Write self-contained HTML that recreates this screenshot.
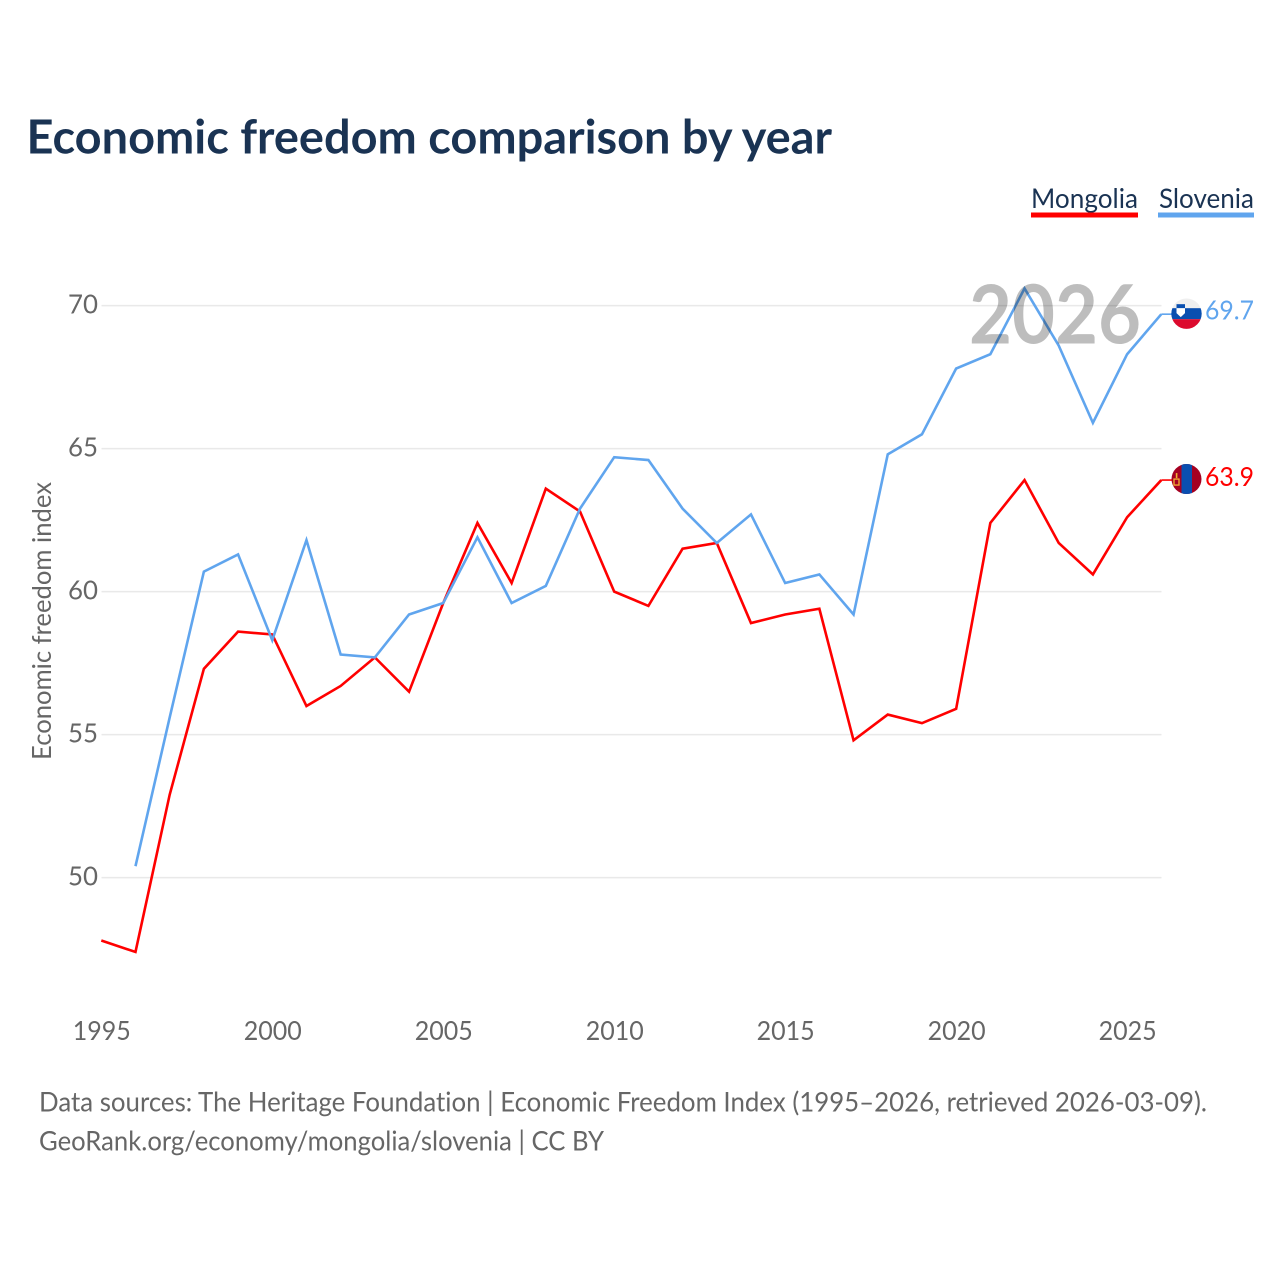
<!DOCTYPE html>
<html lang="en">
<head>
<meta charset="utf-8">
<title>Economic freedom comparison by year</title>
<style>
html,body{margin:0;padding:0;background:#fff;width:1280px;height:1280px;overflow:hidden}
svg{display:block}
text{font-family:"Lato","Carlito","Liberation Sans",sans-serif;font-variant-ligatures:none}
</style>
</head>
<body>
<svg id="chart" xmlns="http://www.w3.org/2000/svg" width="1280" height="1280" viewBox="0 0 1280 1280">
  <defs>
    <clipPath id="clip-si"><circle id="clip-si-c" r="15.2"></circle></clipPath>
    <clipPath id="clip-mn"><circle id="clip-mn-c" r="15"></circle></clipPath>
  </defs>
  <rect width="1280" height="1280" fill="#fff"></rect>
  <text x="26.5" y="153.5" font-size="47" font-weight="700" fill="#1a3353" textLength="805.5" lengthAdjust="spacingAndGlyphs">Economic freedom comparison by year</text>

  <g>
    <g>
      <text x="1031" y="208" font-size="27.5" fill="#1a3353" textLength="107" lengthAdjust="spacingAndGlyphs">Mongolia</text>
      <rect x="1031" y="212.5" width="107" height="5" fill="#ff0000"></rect>
    </g>
    <g>
      <text x="1159" y="208" font-size="27.5" fill="#1a3353" textLength="95" lengthAdjust="spacingAndGlyphs">Slovenia</text>
      <rect x="1158" y="212.5" width="96" height="5" fill="#60a5ee"></rect>
    </g>
  </g>

  <text transform="translate(51,621) rotate(-90)" text-anchor="middle" font-size="26" fill="#666" textLength="278" lengthAdjust="spacingAndGlyphs">Economic freedom index</text>

  <g id="grid"></g>
  <g id="y-ticks"></g>
  <g id="x-ticks"></g>
  <g id="series"></g>

  <text id="year-label" x="1141" y="343.5" text-anchor="end" font-size="81" font-weight="700" fill="#000" fill-opacity="0.26" textLength="172" lengthAdjust="spacingAndGlyphs">2026</text>

  <g id="flag-si" clip-path="url(#clip-si)">
    <rect id="si-w" x="1170" width="32" height="11" fill="#efefef"></rect>
    <rect id="si-b" x="1170" width="32" height="11" fill="#0a4fb0"></rect>
    <rect id="si-r" x="1170" width="32" height="11" fill="#dc0a2d"></rect>
    <rect id="si-s" x="1176.5" width="8.5" height="5" fill="#0a4fb0"></rect>
    <path id="si-s2" d="M1176.5 0h8.5v5l-4.25 4l-4.25 -4z" fill="#fff"></path>
  </g>
  <g id="flag-mn" clip-path="url(#clip-mn)">
    <rect id="mn-l" x="1171" width="31" height="31" fill="#a50021"></rect>
    <rect id="mn-c" x="1181.5" width="10.5" height="31" fill="#0a4fb0"></rect>
    <rect id="mn-s1" x="1174" width="5" height="6" fill="none" stroke="#f2b033" stroke-width="1.3"></rect>
    <rect id="mn-s2" x="1175.8" width="1.6" height="5" fill="#f2b033"></rect>
  </g>
  <text id="val-si" x="1205" font-size="26.5" fill="#60a5ee" textLength="49" lengthAdjust="spacingAndGlyphs"></text>
  <text id="val-mn" x="1205" font-size="26.5" fill="#ff0000" textLength="49" lengthAdjust="spacingAndGlyphs"></text>

  <text x="39" y="1111.7" font-size="27" fill="#666" textLength="1168" lengthAdjust="spacingAndGlyphs">Data sources: The Heritage Foundation | Economic Freedom Index (1995–2026, retrieved 2026-03-09).</text>
  <text x="39" y="1150.7" font-size="27" fill="#666" textLength="565" lengthAdjust="spacingAndGlyphs">GeoRank.org/economy/mongolia/slovenia | CC BY</text>
</svg>
<script>
const years = [1995,1996,1997,1998,1999,2000,2001,2002,2003,2004,2005,2006,2007,2008,2009,2010,2011,2012,2013,2014,2015,2016,2017,2018,2019,2020,2021,2022,2023,2024,2025,2026];
const mongolia = [47.8,47.4,52.9,57.3,58.6,58.5,56.0,56.7,57.7,56.5,59.6,62.4,60.3,63.6,62.8,60.0,59.5,61.5,61.7,58.9,59.2,59.4,54.8,55.7,55.4,55.9,62.4,63.9,61.7,60.6,62.6,63.9];
const slovenia = [null,50.4,55.6,60.7,61.3,58.3,61.8,57.8,57.7,59.2,59.6,61.9,59.6,60.2,62.9,64.7,64.6,62.9,61.7,62.7,60.3,60.6,59.2,64.8,65.5,67.8,68.3,70.6,68.6,65.9,68.3,69.7];
const yTicks = [50,55,60,65,70];
const xTicks = [1995,2000,2005,2010,2015,2020,2025];

const NS = 'http://www.w3.org/2000/svg';
function x(year){ return 101.3 + (year - 1995) * (1060 / 31); }
function y(value){ return 877.6 - (value - 50) * 28.6; }
function make(tag, attrs, parent){
  const el = document.createElementNS(NS, tag);
  for (const k in attrs) el.setAttribute(k, attrs[k]);
  parent.appendChild(el);
  return el;
}
const gridG = document.getElementById('grid');
const yG = document.getElementById('y-ticks');
const xG = document.getElementById('x-ticks');
const seriesG = document.getElementById('series');

yTicks.forEach(function(t){
  const line = make('line', {x1:101.5, x2:1161.5, y1:y(t), y2:y(t), stroke:'#e9e9e9', 'stroke-width':1.5}, gridG);
  
  
  const label = make('text', {x:98, y:y(t)+8, 'text-anchor':'end', 'font-size':26.5, fill:'#666', textLength:30, lengthAdjust:'spacingAndGlyphs'}, yG);
  
  
  label.textContent = t;
});
xTicks.forEach(function(t){
  const label = make('text', {x:x(t)+0.5, y:1040, 'text-anchor':'middle', 'font-size':26.5, fill:'#666', textLength:58, lengthAdjust:'spacingAndGlyphs'}, xG);
  
  
  label.textContent = t;
});
function pathFor(values){
  let d = '';
  values.forEach(function(v, i){
    if (v === null) return;
    d += (d ? 'L' : 'M') + x(years[i]).toFixed(2) + ' ' + y(v).toFixed(2);
  });
  return d;
}
const lineMn = make('path', {d:pathFor(mongolia), fill:'none', stroke:'#ff0000', 'stroke-width':2.6, 'stroke-linejoin':'miter'}, seriesG);


const lineSi = make('path', {d:pathFor(slovenia), fill:'none', stroke:'#60a5ee', 'stroke-width':2.6, 'stroke-linejoin':'miter'}, seriesG);



const lastMn = mongolia[mongolia.length - 1];
const lastSi = slovenia[slovenia.length - 1];
const xEnd = x(years[years.length - 1]);
const cyMn = y(lastMn) - 1;
const cySi = y(lastSi) - 0.5;
const conMn = make('line', {x1:xEnd, x2:1172, y1:y(lastMn), y2:y(lastMn), stroke:'#ff0000', 'stroke-width':1.6}, seriesG);


const conSi = make('line', {x1:xEnd, x2:1172, y1:y(lastSi), y2:y(lastSi), stroke:'#60a5ee', 'stroke-width':1.6}, seriesG);



function setC(id, cy){ const c = document.getElementById(id); c.setAttribute('cx', 1186.5); c.setAttribute('cy', cy); }
setC('clip-si-c', cySi);
setC('clip-mn-c', cyMn);
function setY(id, v){ document.getElementById(id).setAttribute('y', v); }
setY('si-w', cySi - 16);
setY('si-b', cySi - 5.5);
setY('si-r', cySi + 5.5);
setY('si-s', cySi - 9.5);
document.getElementById('si-s2').setAttribute('transform', 'translate(0,' + (cySi - 5.5) + ')');
setY('mn-l', cyMn - 15.5);
setY('mn-c', cyMn - 15.5);
setY('mn-s1', cyMn);
setY('mn-s2', cyMn - 6);

const vSi = document.getElementById('val-si');
vSi.setAttribute('y', y(lastSi) + 5.5);
vSi.textContent = lastSi.toFixed(1);
const vMn = document.getElementById('val-mn');
vMn.setAttribute('y', y(lastMn) + 6);
vMn.textContent = lastMn.toFixed(1);
</script>
</body>
</html>
